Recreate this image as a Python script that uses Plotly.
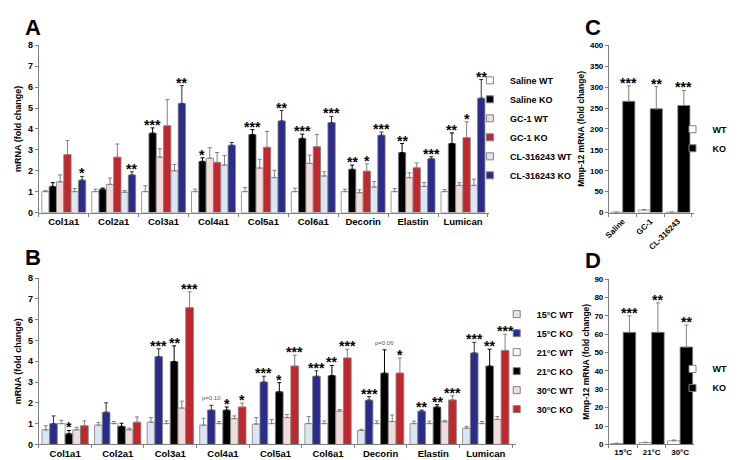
import plotly.graph_objects as go

# ---- data -------------------------------------------------------------
genes = ['Col1a1', 'Col2a1', 'Col3a1', 'Col4a1', 'Col5a1', 'Col6a1', 'Decorin', 'Elastin', 'Lumican']

# panel A: drug treatments
a_names = ['Saline WT', 'Saline KO', 'GC-1 WT', 'GC-1 KO', 'CL-316243 WT', 'CL-316243 KO']
saline_wt = [1.0, 1.0, 1.0, 1.0, 1.0, 1.0, 1.0, 1.0, 1.0]
saline_wt_err = [0.05, 0.12, 0.28, 0.12, 0.2, 0.17, 0.12, 0.15, 0.1]
saline_ko = [1.25, 1.12, 3.8, 2.45, 3.73, 3.55, 2.07, 2.87, 3.3]
saline_ko_err = [0.18, 0.05, 0.25, 0.17, 0.24, 0.2, 0.2, 0.43, 0.51]
gc1_wt = [1.47, 1.35, 2.65, 2.6, 2.13, 2.35, 0.95, 1.67, 1.3]
gc1_wt_err = [0.33, 0.3, 0.4, 0.5, 0.42, 0.4, 0.14, 0.23, 0.13]
gc1_ko = [2.77, 2.65, 4.15, 2.4, 3.12, 3.15, 1.98, 2.14, 3.58]
gc1_ko_err = [0.68, 0.63, 1.25, 0.47, 0.76, 0.58, 0.35, 0.23, 0.76]
cl_wt = [1.0, 0.97, 2.0, 2.27, 1.67, 1.75, 1.22, 1.25, 1.3]
cl_wt_err = [0.15, 0.08, 0.3, 0.46, 0.35, 0.2, 0.27, 0.18, 0.3]
cl_ko = [1.55, 1.8, 5.22, 3.22, 4.38, 4.3, 3.7, 2.57, 5.47]
cl_ko_err = [0.18, 0.15, 0.85, 0.13, 0.5, 0.3, 0.15, 0.1, 0.89]
saline_ko_sig = ['', '', '***', '*', '***', '***', '**', '**', '**']
gc1_ko_sig = ['', '', '', '', '', '', '*', '', '*']
cl_ko_sig = ['*', '**', '**', '', '**', '***', '***', '***', '**']

# panel B: housing temperature
b_names = ['15°C WT', '15°C KO', '21°C WT', '21°C KO', '30°C WT', '30°C KO']
t15_wt = [0.7, 0.93, 1.07, 0.93, 0.98, 1.0, 0.67, 1.0, 0.78]
t15_wt_err = [0.2, 0.13, 0.22, 0.33, 0.31, 0.34, 0.06, 0.12, 0.09]
t15_ko = [1.0, 1.55, 4.22, 1.65, 3.0, 3.28, 2.13, 1.6, 4.4]
t15_ko_err = [0.37, 0.45, 0.38, 0.23, 0.28, 0.26, 0.17, 0.05, 0.51]
t21_wt = [1.0, 1.0, 1.0, 1.0, 1.0, 1.0, 1.0, 1.0, 1.0]
t21_wt_err = [0.16, 0.1, 0.13, 0.1, 0.2, 0.13, 0.13, 0.12, 0.1]
t21_ko = [0.51, 0.87, 3.99, 1.65, 2.53, 3.31, 3.43, 1.8, 3.77]
t21_ko_err = [0.16, 0.15, 0.75, 0.15, 0.44, 0.49, 1.12, 0.11, 0.81]
t30_wt = [0.7, 0.7, 1.75, 1.24, 1.29, 1.6, 1.1, 1.09, 1.2]
t30_wt_err = [0.12, 0.08, 0.33, 0.13, 0.15, 0.08, 0.31, 0.07, 0.14]
t30_ko = [0.9, 1.07, 6.58, 1.8, 3.77, 4.16, 3.43, 2.14, 4.52]
t30_ko_err = [0.23, 0.25, 0.76, 0.19, 0.52, 0.42, 0.72, 0.2, 0.78]
t15_ko_sig = ['', '', '***', 'p=0.10', '***', '***', '***', '**', '***']
t21_ko_sig = ['*', '', '**', '*', '*', '**', 'p=0.06', '**', '**']
t30_ko_sig = ['', '', '***', '*', '***', '***', '*', '***', '***']

# panel C: Mmp-12 by treatment
c_cats = ['Saline', 'GC-1', 'CL-316243']
c_wt = [0.8, 6.0, 0.8]
c_wt_err = [0.3, 1.5, 0.3]
c_ko = [266, 248, 256]
c_ko_err = [37, 53, 36]
c_ko_sig = ['***', '**', '***']

# panel D: Mmp-12 by temperature
d_cats = ['15°C', '21°C', '30°C']
d_wt = [0.5, 1.0, 2.0]
d_wt_err = [0.2, 0.2, 0.4]
d_ko = [61, 61, 53]
d_ko_err = [9, 16, 12]
d_ko_sig = ['***', '**', '**']

# ---- styling ----------------------------------------------------------
WHITE, BLACK, PINK, RED, LBLUE, NAVY = '#ffffff', '#000000', '#f2dcdb', '#c1272d', '#dce6f2', '#2b2b8c'
EDGE = '#808080'
FONT = 'Liberation Sans'
W, H = 738, 460
GAP = 0.12


def px_x(a, b):
    return [a / W, b / W]


def px_y(top, bottom):
    return [1 - bottom / H, 1 - top / H]


fig = go.Figure()


def add_group(x, series, ax, legend):
    xa, ya = ax
    n = len(series)
    for i, (name, vals, errs, color, ecolor, sig) in enumerate(series):
        fig.add_trace(go.Bar(
            x=x, y=vals, name=name, xaxis=xa, yaxis=ya, showlegend=False,
            marker=dict(color=color, line=dict(color=EDGE, width=0.8)),
            error_y=dict(type='data', array=errs, arrayminus=[0] * len(vals), symmetric=False,
                         color=ecolor, thickness=1, width=2),
        ))
        # small square legend key (bar keys are drawn much larger than in the figure)
        fig.add_trace(go.Scatter(
            x=[None], y=[None], mode='markers', name=name, xaxis=xa, yaxis=ya, legend=legend,
            marker=dict(symbol='square', size=7, color=color, line=dict(color=EDGE, width=1)),
        ))
        if sig is None:
            continue
        off = -(1 - GAP) / 2 + (1 - GAP) / n * (i + 0.5)
        for k, s in enumerate(sig):
            if not s:
                continue
            small = s.startswith('p=')
            fig.add_annotation(
                x=k + off, y=vals[k] + errs[k], xref=xa, yref=ya, text=s, showarrow=False,
                yanchor='bottom', yshift=2 if small else -7,
                font=dict(family=FONT, size=6 if small else 14, color='#555' if small else 'black',
                          weight='normal' if small else 'bold'),
            )


add_group(genes, [
    (a_names[0], saline_wt, saline_wt_err, WHITE, EDGE, None),
    (a_names[1], saline_ko, saline_ko_err, BLACK, BLACK, saline_ko_sig),
    (a_names[2], gc1_wt, gc1_wt_err, PINK, EDGE, None),
    (a_names[3], gc1_ko, gc1_ko_err, RED, EDGE, gc1_ko_sig),
    (a_names[4], cl_wt, cl_wt_err, LBLUE, EDGE, None),
    (a_names[5], cl_ko, cl_ko_err, NAVY, '#333', cl_ko_sig),
], ('x', 'y'), 'legend')

add_group(genes, [
    (b_names[0], t15_wt, t15_wt_err, LBLUE, EDGE, None),
    (b_names[1], t15_ko, t15_ko_err, NAVY, '#333', t15_ko_sig),
    (b_names[2], t21_wt, t21_wt_err, WHITE, EDGE, None),
    (b_names[3], t21_ko, t21_ko_err, BLACK, BLACK, t21_ko_sig),
    (b_names[4], t30_wt, t30_wt_err, PINK, EDGE, None),
    (b_names[5], t30_ko, t30_ko_err, RED, EDGE, t30_ko_sig),
], ('x2', 'y2'), 'legend2')

add_group(c_cats, [
    ('WT', c_wt, c_wt_err, WHITE, EDGE, None),
    ('KO', c_ko, c_ko_err, BLACK, EDGE, c_ko_sig),
], ('x3', 'y3'), 'legend3')

add_group(d_cats, [
    ('WT', d_wt, d_wt_err, WHITE, EDGE, None),
    ('KO', d_ko, d_ko_err, BLACK, EDGE, d_ko_sig),
], ('x4', 'y4'), 'legend4')

bold = dict(family=FONT, color='black', weight='bold')
xax = dict(type='category', showline=True, linecolor=EDGE, linewidth=1, ticks='outside',
           tickson='boundaries', ticklen=3, tickcolor=EDGE, showgrid=False, zeroline=False)
yax = dict(showline=True, linecolor=EDGE, linewidth=1, ticks='outside', ticklen=3,
           tickcolor=EDGE, showgrid=False, zeroline=False)

fig.update_layout(
    width=W, height=H, margin=dict(l=0, r=0, t=0, b=0),
    paper_bgcolor='white', plot_bgcolor='white',
    barmode='group', bargap=GAP, bargroupgap=0,
    font=dict(family=FONT, size=9, color='black'),
    xaxis=dict(xax, domain=px_x(26, 479), anchor='y', tickfont=dict(bold, size=9.5)),
    yaxis=dict(yax, domain=px_y(33, 204), anchor='x', range=[0, 8], dtick=1,
               tickfont=dict(bold, size=9),
               title=dict(text='mRNA (fold change)', font=dict(bold, size=9), standoff=4)),
    xaxis2=dict(xax, domain=px_x(26, 506), anchor='y2', tickfont=dict(bold, size=9.5)),
    yaxis2=dict(yax, domain=px_y(271, 441), anchor='x2', range=[0, 8], dtick=1,
                tickfont=dict(bold, size=9),
                title=dict(text='mRNA (fold change)', font=dict(bold, size=9), standoff=4)),
    xaxis3=dict(xax, domain=px_x(600, 686), anchor='y3', tickangle=-45, tickfont=dict(bold, size=8)),
    yaxis3=dict(yax, domain=px_y(33, 204), anchor='x3', range=[0, 400], dtick=50,
                tickfont=dict(bold, size=8),
                title=dict(text='Mmp-12 mRNA (fold change)', font=dict(bold, size=8.5), standoff=3)),
    xaxis4=dict(xax, domain=px_x(600, 686), anchor='y4', tickfont=dict(bold, size=8)),
    yaxis4=dict(yax, domain=px_y(272, 441), anchor='x4', range=[0, 90], dtick=10,
                tickfont=dict(bold, size=8),
                title=dict(text='Mmp-12 mRNA (fold change)', font=dict(bold, size=8.5), standoff=3)),
)

leg = dict(xanchor='left', yanchor='top', bgcolor='rgba(0,0,0,0)', tracegroupgap=0,
           font=dict(bold, size=9), itemclick=False, itemdoubleclick=False)
fig.update_layout(
    legend=dict(leg, x=460 / W, y=1 - 54 / H),
    legend2=dict(leg, x=487 / W, y=1 - 293 / H),
    legend3=dict(leg, x=664 / W, y=1 - 104 / H),
    legend4=dict(leg, x=664 / W, y=1 - 349 / H),
)

for letter, lx, ly in [('A', 10, 15), ('B', 10, 250), ('C', 574, 15), ('D', 574, 253)]:
    fig.add_annotation(x=lx / W, y=1 - ly / H, xref='paper', yref='paper', text=letter,
                       showarrow=False, xanchor='left', yanchor='middle',
                       font=dict(bold, size=22))

fig.write_html('out.html')
